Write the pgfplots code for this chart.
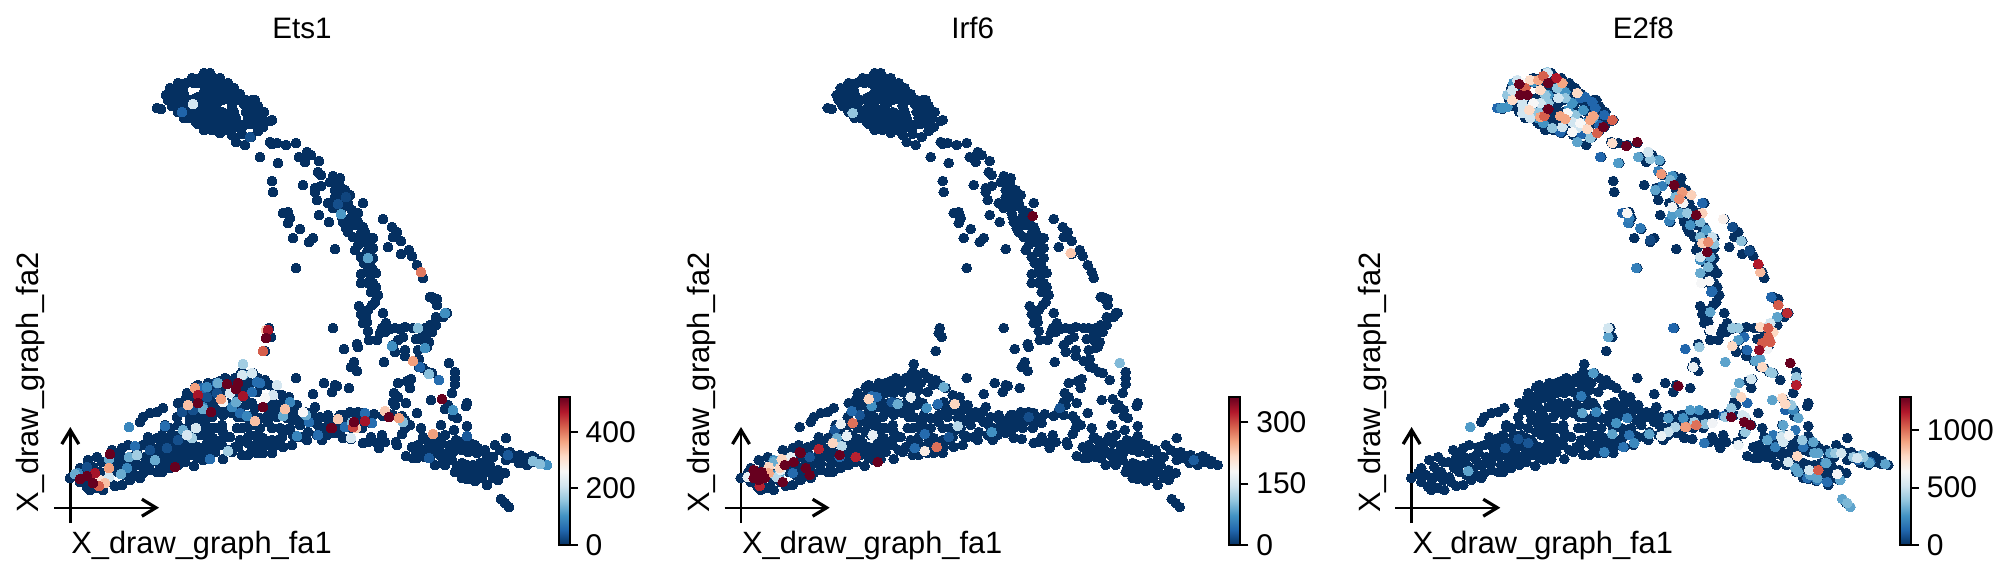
\documentclass[border=0pt]{standalone}
\usepackage{fontspec}
\setmainfont{Liberation Sans}
\usepackage{pgfplots}
\usepackage{pgfplotstable}
\pgfplotsset{compat=1.18}
\usetikzlibrary{arrows.meta}

\pgfplotsset{
  colormap={rdbur}{rgb255=(5,48,97) rgb255=(33,102,172) rgb255=(67,147,195) rgb255=(146,197,222) rgb255=(209,229,240) rgb255=(247,247,247) rgb255=(253,219,199) rgb255=(244,165,130) rgb255=(214,96,77) rgb255=(178,24,43) rgb255=(103,0,31)},
  panel/.style={
    anchor=south west, scale only axis, width=335pt, height=289pt,
    xmin=0, xmax=670, ymin=0, ymax=578, y dir=reverse,
    axis lines=none, clip=false,
    colorbar,
    colorbar style={
      at={(parent axis.south west)}, anchor=south west,
      xshift=270.75pt, yshift=16.5pt,
      width=5.5pt, height=74pt, scale only axis,
      y dir=normal, axis lines=box, axis line style={black,line width=1pt},
      ytick pos=right, tick align=outside, major tick length=4pt,
      every tick/.style={black,line width=1pt},
      yticklabel style={font=\fontsize{15}{18}\selectfont, /pgf/number format/assume math mode=true, /pgf/number format/1000 sep={}, xshift=0.5pt},
      scaled y ticks=false,
    },
  },
  dots/.style={scatter, only marks, mark=*, mark size=2.45pt,
    scatter/use mapped color={draw=mapped color,fill=mapped color},
    mark options={line width=0pt}},
}
\newcommand{\lab}{\fontsize{15.4}{18}\selectfont}
\newcommand{\ttl}{\fontsize{14.8}{18}\selectfont}

% all cells, pixel position in a panel (y from the top)
\pgfplotstableread[row sep=\\]{
x y\\
204 73\\ 210 73\\
192 78\\ 200 78\\ 208 78\\ 214 78\\ 220 78\\
178 83\\ 186 83\\ 194 83\\ 200 83\\ 206 83\\ 214 83\\ 222 83\\ 228 83\\
175 88\\ 182 88\\ 205 88\\ 212 88\\ 220 88\\ 228 88\\ 234 88\\
170 94\\ 176 94\\ 184 94\\ 210 94\\ 218 94\\ 226 94\\ 234 94\\ 240 94\\
168 100\\ 174 100\\ 182 100\\ 190 100\\ 205 100\\ 212 100\\ 222 100\\ 230 100\\ 240 100\\ 246 100\\ 252 100\\
172 106\\ 180 106\\ 186 106\\ 198 106\\ 204 106\\ 214 106\\ 222 112\\ 232 106\\ 244 104\\ 252 106\\ 258 106\\
157 108\\ 161 109\\
178 112\\ 186 112\\ 194 112\\ 204 112\\ 212 112\\ 226 114\\ 234 112\\ 252 112\\ 260 112\\
184 118\\ 190 118\\ 198 118\\ 208 118\\ 214 118\\ 222 118\\ 230 118\\ 236 118\\ 248 118\\ 254 118\\ 262 118\\ 270 121\\
198 124\\ 204 124\\ 210 124\\ 218 124\\ 226 124\\ 232 124\\ 238 124\\ 250 124\\ 256 124\\ 263 127\\
204 130\\ 212 130\\ 220 133\\ 232 135\\ 240 128\\ 251 137\\ 258 131\\ 210 128\\ 236 142\\ 245 145\\
170 88\\ 166 95\\ 180 90\\ 188 100\\ 196 98\\ 200 110\\ 217 103\\ 236 100\\ 217 112\\ 246 112\\ 218 128\\ 226 130\\ 196 122\\ 190 110\\ 244 125\\ 242 134\\ 258 125\\ 230 129\\ 255 100\\ 264 112\\ 272 120\\ 183 90\\ 198 97\\ 204 92\\ 216 84\\ 224 89\\
270 142\\ 272 144\\ 277 143\\ 286 145\\ 296 143\\ 260 157\\ 278 163\\ 299 157\\ 307 152\\ 311 155\\ 319 161\\ 305 162\\
318 172\\ 321 175\\ 333 176\\ 340 178\\ 330 182\\ 335 183\\ 272 181\\ 273 192\\ 303 185\\ 315 188\\ 321 186\\ 315 192\\ 317 200\\
335 190\\ 339 192\\ 350 195\\ 343 197\\ 335 197\\ 328 203\\ 363 203\\ 337 203\\ 343 207\\ 333 208\\ 352 210\\ 341 213\\ 358 213\\
319 215\\ 329 222\\ 283 213\\ 288 212\\ 290 218\\ 288 223\\ 300 229\\ 293 238\\ 313 238\\ 309 242\\ 335 249\\ 296 268\\
343 222\\ 350 223\\ 358 222\\ 363 227\\ 346 228\\ 353 237\\ 361 233\\ 367 237\\ 373 238\\ 358 245\\ 367 243\\ 373 248\\
361 257\\ 367 252\\ 373 258\\ 364 263\\ 371 267\\ 361 274\\ 367 272\\ 376 273\\ 361 283\\ 376 287\\ 371 292\\ 378 295\\
355 225\\ 365 232\\ 370 245\\ 362 240\\ 365 262\\ 370 280\\ 373 270\\ 340 186\\ 345 190\\ 348 203\\ 352 216\\ 342 217\\ 348 232\\ 355 250\\ 368 283\\ 373 283\\
383 219\\ 392 227\\ 397 232\\ 393 237\\ 401 241\\ 388 247\\ 401 254\\ 409 250\\ 412 256\\ 417 265\\ 423 278\\ 421 272\\ 432 297\\ 437 299\\
372 292\\ 377 295\\ 375 302\\ 372 305\\ 359 306\\ 368 310\\ 383 313\\ 361 314\\ 366 317\\ 367 322\\ 363 323\\ 333 328\\ 368 331\\
382 328\\ 386 323\\ 390 329\\ 395 328\\ 400 329\\ 405 327\\ 380 333\\ 385 332\\ 369 340\\ 377 340\\ 398 340\\ 403 337\\ 393 345\\
395 352\\ 405 350\\ 405 356\\ 344 349\\ 357 344\\ 358 347\\ 354 362\\ 351 367\\ 357 371\\ 384 362\\
430 297\\ 434 299\\ 437 305\\ 445 313\\ 447 313\\ 443 317\\ 436 317\\ 436 325\\ 430 325\\ 425 328\\ 418 328\\ 413 328\\ 432 332\\
427 333\\ 423 335\\ 416 339\\ 429 342\\ 423 340\\ 427 347\\ 418 350\\ 425 348\\ 419 359\\ 413 361\\ 419 367\\ 423 368\\ 428 372\\ 432 373\\
439 380\\ 449 363\\ 455 372\\ 455 378\\ 455 384\\ 452 393\\
398 383\\ 407 381\\ 411 379\\ 410 388\\ 349 388\\ 337 386\\ 332 392\\ 394 393\\ 398 397\\ 393 402\\ 406 403\\ 431 400\\ 442 399\\
417 413\\ 445 409\\ 448 405\\ 467 403\\ 466 406\\ 453 410\\ 453 416\\ 457 418\\
395 405\\ 387 413\\ 383 416\\ 393 415\\ 402 416\\ 405 420\\ 410 425\\ 405 428\\ 402 434\\ 421 428\\ 441 425\\ 454 430\\ 467 426\\ 374 414\\
363 413\\ 358 412\\ 350 412\\ 343 415\\ 338 418\\ 330 420\\ 353 422\\ 365 422\\ 371 423\\ 345 427\\ 337 430\\ 332 428\\ 352 428\\ 362 428\\
345 420\\ 358 420\\ 350 418\\ 340 415\\ 330 425\\ 360 416\\ 368 418\\
343 438\\ 351 439\\ 363 443\\ 371 437\\ 368 442\\ 377 443\\ 382 435\\ 385 442\\ 379 448\\ 396 442\\ 397 445\\
412 447\\ 406 456\\ 413 458\\ 417 458\\ 423 437\\ 416 450\\ 422 452\\ 427 440\\ 430 447\\ 425 457\\ 432 447\\ 435 442\\ 438 437\\ 445 435\\
442 443\\ 437 452\\ 442 453\\ 430 458\\ 435 465\\ 445 465\\ 447 453\\ 453 452\\ 456 440\\ 462 442\\ 467 436\\ 470 443\\ 475 445\\ 462 450\\
468 452\\ 477 453\\ 485 450\\ 495 445\\ 506 438\\ 487 456\\ 493 457\\ 505 453\\ 510 452\\ 506 460\\ 520 455\\ 519 463\\ 527 465\\ 532 456\\
533 462\\ 541 461\\ 540 464\\ 547 465\\ 527 458\\ 510 455\\
452 460\\ 457 467\\ 455 472\\ 462 463\\ 467 465\\ 473 465\\ 480 463\\ 485 463\\ 462 473\\ 468 472\\ 475 472\\ 482 470\\ 488 472\\ 462 478\\
467 479\\ 475 481\\ 482 478\\ 487 485\\ 493 478\\ 498 480\\ 498 470\\ 505 473\\ 500 475\\ 448 458\\ 443 462\\ 501 499\\ 505 503\\ 509 507\\
470 468\\ 478 468\\ 470 478\\ 490 465\\ 480 476\\ 440 455\\ 432 452\\ 425 450\\ 418 445\\ 450 445\\ 458 448\\ 478 448\\ 500 450\\ 516 456\\ 525 462\\ 535 458\\ 512 458\\ 460 470\\
70 478\\ 77 473\\ 80 468\\ 88 460\\ 97 457\\ 102 462\\ 93 467\\ 85 475\\ 80 482\\ 87 487\\ 90 490\\ 97 488\\ 103 490\\ 102 480\\ 93 477\\
108 477\\ 113 468\\ 107 462\\ 115 457\\ 112 450\\ 122 448\\ 120 463\\ 122 485\\ 125 475\\ 128 467\\ 132 457\\ 128 445\\ 137 447\\ 140 478\\
143 473\\ 138 465\\ 145 457\\ 145 463\\ 143 445\\ 148 437\\ 152 448\\ 158 457\\ 157 472\\ 162 472\\ 167 462\\ 160 448\\ 157 438\\ 165 427\\
162 435\\ 170 442\\ 168 453\\ 175 455\\ 185 462\\ 194 466\\ 180 457\\ 190 455\\ 178 440\\ 182 447\\ 192 443\\ 198 458\\ 203 460\\ 210 459\\
215 452\\ 223 459\\ 228 450\\ 242 455\\ 248 455\\ 235 447\\ 217 445\\ 257 453\\ 263 453\\ 272 453\\ 273 447\\ 283 447\\ 292 445\\ 297 437\\
307 440\\ 317 435\\ 322 440\\ 327 435\\ 335 433\\ 340 432\\ 308 432\\ 300 425\\ 313 422\\ 320 417\\ 327 418\\ 337 420\\ 332 428\\ 323 428\\
90 483\\ 110 482\\ 115 486\\ 130 480\\ 100 472\\ 118 472\\ 132 472\\ 150 470\\ 135 475\\ 112 462\\ 125 458\\ 135 460\\ 150 463\\ 152 455\\ 165 455\\ 175 462\\
120 453\\ 137 452\\ 150 443\\ 160 440\\ 165 443\\ 175 447\\ 185 445\\ 198 447\\ 170 428\\ 178 425\\ 190 420\\ 197 417\\ 205 423\\ 212 428\\ 222 425\\
187 405\\ 195 400\\ 205 395\\ 212 408\\ 225 408\\ 235 405\\ 246 405\\ 255 408\\ 240 392\\ 248 390\\ 210 390\\ 218 390\\ 225 378\\ 235 378\\ 245 382\\ 265 380\\
238 417\\ 250 420\\ 268 422\\ 275 410\\ 283 410\\ 290 412\\ 300 412\\ 297 405\\ 312 412\\ 318 425\\ 222 445\\ 232 452\\ 252 447\\ 258 440\\ 248 437\\ 238 447\\ 278 440\\ 285 430\\ 293 435\\ 303 437\\
198 385\\ 208 383\\ 220 381\\ 228 380\\ 238 380\\ 200 392\\ 215 388\\ 228 388\\ 192 405\\ 200 412\\ 185 408\\ 289 397\\ 283 402\\ 292 410\\ 300 420\\ 310 418\\ 155 450\\ 172 450\\ 185 438\\ 195 432\\ 205 430\\ 212 445\\ 160 465\\ 170 468\\ 178 465\\
140 422\\ 143 417\\ 150 413\\ 157 412\\ 163 408\\ 165 425\\
195 387\\ 187 393\\ 185 400\\ 178 403\\ 182 410\\ 177 417\\ 190 415\\ 197 407\\ 193 397\\ 203 388\\ 202 398\\ 207 407\\ 212 417\\ 203 417\\
197 425\\ 187 428\\ 180 435\\ 172 435\\ 200 435\\ 190 440\\ 207 443\\ 215 383\\ 223 385\\ 232 382\\ 240 375\\ 247 375\\ 253 373\\ 258 378\\
262 385\\ 257 392\\ 250 383\\ 240 385\\ 232 392\\ 223 393\\ 215 393\\ 210 400\\ 218 403\\ 227 403\\ 237 398\\ 245 398\\ 252 403\\ 240 408\\
232 413\\ 223 415\\ 217 412\\ 243 417\\ 253 415\\ 260 418\\ 268 415\\ 267 405\\ 273 402\\ 275 388\\ 270 385\\ 282 395\\ 287 402\\ 293 405\\
280 408\\ 277 417\\ 287 418\\ 295 420\\ 305 412\\ 307 417\\ 290 428\\ 280 428\\ 272 428\\ 263 438\\ 272 440\\ 282 437\\ 257 435\\ 250 435\\
242 428\\ 247 427\\ 252 425\\ 260 428\\ 237 428\\ 230 437\\ 240 440\\ 248 443\\ 223 432\\ 215 428\\ 208 435\\ 213 438\\ 207 450\\ 202 453\\
193 450\\ 185 452\\ 170 457\\ 223 438\\ 260 445\\ 267 445\\
243 364\\ 296 378\\ 324 383\\ 335 385\\ 332 392\\ 313 394\\ 315 407\\ 129 427\\ 242 372\\ 328 415\\ 340 422\\
269 328\\ 268 333\\ 271 337\\ 265 351\\
}\cells

% Ets1: cells that are not near zero, low values first
\pgfplotstableread[row sep=\\]{
x y v\\
250 137 30\\ 338 204 30\\ 346 197 20\\ 150 450 30\\ 167 448 30\\ 178 440 30\\ 87 467 30\\ 193 410 30\\ 182 412 30\\ 207 397 30\\ 200 388 30\\ 217 393 30\\
182 112 50\\ 508 455 40\\ 467 436 40\\ 429 458 40\\ 420 367 50\\
135 446 60\\ 165 426 60\\ 210 459 60\\ 240 413 60\\ 309 422 60\\ 318 435 60\\ 203 388 60\\ 217 383 60\\ 257 382 60\\ 252 392 60\\ 260 383 60\\ 439 380 60\\ 365 413 60\\ 345 427 60\\ 372 423 60\\
129 427 90\\ 297 436 90\\ 290 402 90\\ 232 407 90\\ 247 416 90\\ 207 387 90\\ 203 407 90\\ 78 473 90\\ 127 468 90\\
425 348 100\\ 392 346 100\\ 453 410 100\\ 445 313 100\\ 547 465 100\\ 341 214 110\\ 368 258 120\\
75 474 130\\ 129 457 130\\ 283 416 130\\ 306 415 130\\ 109 459 130\\ 155 460 130\\ 121 474 130\\ 183 430 130\\ 203 409 130\\ 236 402 130\\ 218 383 130\\ 243 375 130\\
418 328 150\\ 429 374 150\\ 403 422 150\\ 352 422 150\\ 533 461 150\\ 540 464 150\\
137 455 170\\ 188 435 170\\ 192 438 170\\ 228 451 170\\ 243 364 170\\
193 104 215\\ 196 428 215\\ 187 435 215\\ 109 477 215\\ 242 375 215\\ 252 373 215\\ 230 393 215\\ 277 385 215\\ 273 395 215\\ 351 438 215\\
303 412 262\\ 265 398 262\\ 223 402 262\\ 100 480 300\\ 338 419 300\\ 338 419 330\\ 385 411 330\\ 356 428 330\\ 266 330 330\\
188 405 340\\ 285 409 340\\ 105 483 340\\ 255 421 340\\ 109 468 370\\ 195 388 370\\ 221 399 370\\ 413 361 370\\ 399 418 370\\ 433 434 370\\
421 272 400\\ 99 486 420\\ 263 351 420\\ 353 427 440\\ 95 473 480\\ 198 395 480\\ 243 396 480\\ 365 421 480\\ 268 330 480\\
110 454 523\\ 80 479 523\\ 87 476 523\\ 93 483 523\\ 175 467 523\\ 198 403 523\\ 211 412 523\\ 227 384 523\\ 238 383 523\\ 236 389 523\\ 263 407 523\\ 331 428 523\\
442 399 523\\ 389 417 523\\ 354 422 523\\ 332 428 523\\ 266 338 523\\
}\etsone

% Irf6
\pgfplotstableread[row sep=\\]{
x y v\\
358 417 20\\ 389 408 25\\ 523 460 30\\ 139 457 25\\ 221 402 25\\ 278 437 25\\ 164 430 25\\ 189 415 25\\
122 473 40\\ 267 404 40\\ 254 434 40\\ 244 448 40\\ 181 411 40\\ 201 396 40\\ 206 397 40\\ 169 457 40\\
103 460 70\\ 201 406 70\\ 256 408 70\\ 321 432 70\\ 104 475 70\\
227 404 90\\ 273 387 90\\ 103 462 90\\ 166 438 90\\ 109 473 90\\ 449 363 100\\ 182 113 110\\
287 426 130\\ 171 446 130\\ 106 477 130\\
240 397 165\\ 202 435 165\\ 176 436 165\\ 170 424 165\\ 110 470 165\\ 77 477 165\\ 120 457 165\\ 254 451 195\\
284 404 220\\ 198 399 220\\ 162 443 220\\ 111 459 220\\ 98 467 220\\ 109 468 220\\ 400 253 230\\ 98 473 250\\
266 447 280\\ 182 423 280\\ 148 449 320\\ 185 457 320\\ 89 486 320\\
83 470 361\\ 91 472 361\\ 83 478 361\\ 88 480 361\\ 94 478 361\\ 89 475 361\\ 112 482 361\\ 114 465 361\\ 123 462 361\\ 130 453 361\\ 135 468 361\\ 139 475 361\\ 129 452 361\\ 169 455 361\\ 207 462 361\\ 362 216 361\\
}\irfsix

% E2f8
\pgfplotstableread[row sep=\\]{
x y v\\
164 448 90\\ 177 439 80\\ 187 443 90\\ 391 227 70\\ 408 251 60\\ 309 240 60\\ 517 460 120\\ 444 410 120\\
370 292 130\\ 430 297 130\\ 332 328 130\\ 344 349 130\\ 403 337 130\\ 406 350 130\\ 406 403 130\\ 382 416 130\\ 239 98 130\\ 244 97 130\\ 251 102 130\\ 254 108 130\\ 263 115 130\\ 219 132 130\\ 156 108 130\\ 259 157 130\\ 281 213 120\\ 361 203 130\\ 258 125 130\\ 240 134 130\\
371 291 140\\ 466 478 150\\ 486 482 150\\ 529 462 160\\ 462 447 160\\ 363 443 170\\ 454 430 170\\ 432 435 170\\ 288 435 170\\ 282 447 170\\
240 396 180\\ 287 223 180\\ 299 228 180\\ 476 480 180\\ 434 447 200\\ 484 463 200\\ 263 452 200\\ 286 418 200\\ 317 171 200\\ 321 186 200\\ 328 221 200\\ 288 218 200\\ 295 268 200\\
452 410 220\\ 255 412 220\\ 293 443 230\\ 342 418 250\\ 349 225 250\\ 358 410 250\\ 331 176 250\\ 359 260 250\\ 275 423 260\\
161 108 258\\ 160 108 258\\ 166 107 258\\ 172 83 258\\ 224 92 258\\ 231 103 258\\ 202 123 258\\ 196 118 258\\ 207 95 258\\ 192 82 258\\ 227 110 258\\ 242 110 258\\ 246 122 258\\
129 427 280\\ 252 373 280\\ 277 163 280\\ 327 418 280\\ 349 410 280\\ 331 215 280\\ 365 230 280\\ 397 340 280\\
236 142 300\\ 297 157 300\\ 318 160 300\\ 314 190 300\\ 339 213 300\\ 369 257 300\\ 127 471 300\\ 241 413 300\\ 271 434 300\\ 267 337 300\\ 308 434 300\\ 252 118 300\\
369 312 300\\ 436 317 300\\ 384 362 300\\ 414 361 300\\ 419 359 300\\ 398 383 300\\ 431 400 300\\ 442 425 300\\ 457 418 300\\ 426 440 300\\ 472 442 300\\ 473 453 300\\ 477 453 300\\ 489 453 300\\ 454 468 300\\ 457 472 300\\ 469 475 300\\ 476 478 300\\ 485 463 300\\ 499 480 300\\ 521 455 300\\ 528 463 300\\ 544 464 300\\ 501 499 300\\ 509 507 300\\
359 273 320\\ 506 503 350\\ 334 197 350\\ 329 180 350\\ 359 222 350\\ 367 267 350\\ 359 237 350\\
166 95 387\\ 176 98 387\\ 206 72 387\\ 197 112 387\\ 224 98 387\\ 234 115 387\\ 207 103 387\\ 249 138 387\\ 216 88 387\\ 204 95 387\\ 239 125 387\\ 211 128 387\\
309 159 400\\ 346 213 400\\ 373 244 380\\ 400 241 380\\ 364 424 380\\ 358 347 400\\ 384 417 400\\ 391 328 400\\ 397 328 400\\ 394 393 400\\ 390 408 400\\ 429 372 400\\ 431 373 400\\ 455 377 400\\ 450 405 400\\ 404 432 400\\ 461 440 400\\ 442 435 400\\ 494 453 400\\ 512 457 400\\ 522 457 400\\ 353 422 420\\ 334 427 450\\
171 90 516\\ 181 105 516\\ 176 80 516\\ 181 113 516\\ 189 118 516\\ 217 98 516\\ 221 127 516\\ 199 103 516\\ 231 122 516\\ 236 128 516\\ 206 73 516\\ 181 100 516\\
307 152 520\\ 371 237 500\\ 359 257 520\\ 267 328 520\\ 327 432 500\\ 410 379 520\\ 401 415 520\\ 404 417 520\\ 440 437 520\\ 442 442 520\\ 447 462 520\\ 468 470 520\\ 500 453 520\\ 516 458 520\\ 429 323 520\\
352 367 600\\ 397 445 600\\ 320 436 600\\ 331 207 620\\ 426 349 620\\ 371 423 620\\
192 103 645\\ 231 132 645\\ 239 123 645\\ 226 113 645\\ 181 83 645\\ 342 203 650\\ 286 213 650\\ 360 283 640\\ 368 281 650\\ 369 330 640\\ 448 435 640\\ 496 474 640\\ 382 219 680\\
271 143 760\\ 188 110 774\\ 171 100 774\\ 199 90 774\\ 236 93 774\\ 246 129 774\\ 189 80 774\\ 251 117 774\\ 350 195 800\\ 361 213 800\\ 361 243 800\\ 419 272 850\\
391 346 780\\ 419 327 780\\ 432 332 780\\ 421 367 780\\ 441 398 780\\ 444 404 780\\ 400 397 780\\ 456 456 780\\
197 80 903\\ 219 116 903\\ 224 119 903\\ 221 83 903\\ 249 120 903\\ 252 116 903\\ 199 117 903\\ 320 174 930\\ 341 192 930\\ 338 199 950\\ 367 242 950\\ 345 427 950\\ 344 427 920\\ 355 425 1000\\
202 76 1032\\ 184 88 1032\\ 203 116 1032\\ 271 120 1032\\ 256 133 1032\\ 477 470 1040\\ 437 305 1040\\ 429 342 1040\\ 427 337 1040\\ 421 343 1040\\ 427 328 1040\\
446 313 1130\\ 455 385 1150\\ 215 78 1161\\ 417 264 1161\\ 418 350 1220\\
178 84 1290\\ 207 83 1290\\ 179 95 1290\\ 186 95 1290\\ 207 109 1290\\ 262 127 1290\\ 285 146 1290\\ 296 142 1290\\ 333 185 1290\\ 355 215 1290\\ 366 252 1290\\ 337 386 1290\\ 449 363 1290\\ 390 417 1290\\ 403 422 1290\\ 409 425 1290\\
}\etwofeight

\newcommand{\decor}[1]{%
  \draw[black,line width=1.2pt,-{Straight Barb[length=7pt,width=8.5pt,line width=1.6pt]}] (axis cs:54,507.7) -- (axis cs:159,507.7);
  \draw[black,line width=1.2pt,-{Straight Barb[length=7pt,width=8.5pt,line width=1.6pt]}] (axis cs:70.3,523) -- (axis cs:70.3,427);
  \node[anchor=base west,inner sep=0pt] at (axis cs:71,553) {\lab X\_draw\_graph\_fa1};
  \node[anchor=base west,inner sep=0pt,rotate=90] at (axis cs:39,513) {\lab X\_draw\_graph\_fa2};
  \node[anchor=base,inner sep=0pt] at (axis cs:302,39) {\ttl #1};
}

\begin{document}
\begin{tikzpicture}
\path[use as bounding box] (0,0) rectangle (1006pt,289pt);

\begin{axis}[panel, at={(0pt,0pt)}, point meta min=0, point meta max=523,
  colorbar style={ytick={0,200,400}}]
\addplot[dots, point meta=0] table[x=x,y=y] {\cells};
\addplot[dots, point meta=explicit] table[x=x,y=y,meta=v] {\etsone};
\decor{Ets1}
\end{axis}

\begin{axis}[panel, at={(335.35pt,0pt)}, point meta min=0, point meta max=361,
  colorbar style={ytick={0,150,300}}]
\addplot[dots, point meta=0] table[x=x,y=y] {\cells};
\addplot[dots, point meta=explicit] table[x=x,y=y,meta=v] {\irfsix};
\decor{Irf6}
\end{axis}

\begin{axis}[panel, at={(670.65pt,0pt)}, point meta min=0, point meta max=1290,
  colorbar style={ytick={0,500,1000}}]
\addplot[dots, point meta=0] table[x=x,y=y] {\cells};
\addplot[dots, point meta=explicit] table[x=x,y=y,meta=v] {\etwofeight};
\decor{E2f8}
\end{axis}
\end{tikzpicture}
\end{document}
